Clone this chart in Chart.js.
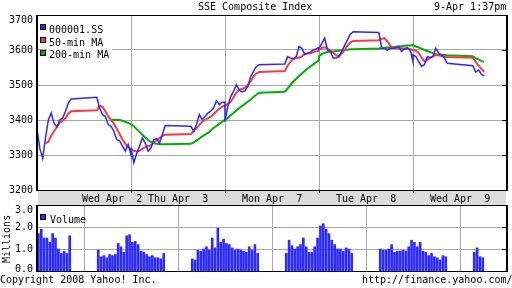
<!DOCTYPE html>
<html>
<head>
<meta charset="utf-8">
<script src="https://cdn.jsdelivr.net/npm/chart.js@4.4.0/dist/chart.umd.min.js"></script>
<style>
html, body { margin: 0; padding: 0; background: #fff; }
#wrap { position: relative; width: 512px; height: 288px; overflow: hidden; font: 10px 'DejaVu Sans Mono', monospace; color: #000; }
#wrap canvas { position: absolute; left: 0; top: 0; }
.t { position: absolute; white-space: pre; line-height: 10px; }
.box { position: absolute; width: 4px; height: 4px; border: 1px solid #000; }
#strip { position: absolute; left: 38px; top: 191px; width: 468px; height: 14px; background: #dcdcdc; }
#legbg { position: absolute; left: 47px; top: 17px; width: 65px; height: 42px; background: #fff; }
</style>
</head>
<body>
<div id="wrap">
  <div id="strip"></div>
  <canvas id="price" width="512" height="288"></canvas>
  <canvas id="volume" width="512" height="288"></canvas>
  <div id="legbg"></div>
  <div class="t" style="left:198px;top:2px">SSE Composite Index</div>
  <div class="t" style="left:434px;top:2px">9-Apr 1:37pm</div>
  <div class="t" style="left:-17px;top:234px;width:48px;transform:rotate(-90deg)">Millions</div>
  <div class="t" style="left:0px;top:275px">Copyright 2008 Yahoo! Inc.</div>
  <div class="t" style="left:362px;top:275px">http://finance.yahoo.com/</div>
</div>
<script>
// trading days shown, each row below = one day
// price rows: 9:30..11:30 then 13:00..15:00, every 10 min
const days = ['Wed Apr  2', 'Thu Apr  3', 'Mon Apr  7', 'Tue Apr  8', 'Wed Apr  9']
const seriesNames = ['000001.SS', '50-min MA', '200-min MA']
const priceTicks = [3200, 3300, 3400, 3500, 3600, 3700]
const volTicks = [0, 1, 2, 3]

const sse = [
  [3375, 3318, 3290, 3350, 3400, 3420, 3390, 3380, 3400, 3405, 3425, 3448, 3460,
   3465, 3434, 3415, 3410, 3387, 3382, 3368, 3344, 3341, 3325, 3311, 3330, 3301],
  [3320, 3278, 3305, 3325, 3349, 3334, 3311, 3320, 3344, 3347, 3334, 3358, 3384,
   3382, 3368, 3387, 3415, 3401, 3410, 3420, 3425, 3434, 3455, 3444, 3451, 3451],
  [3396, 3439, 3467, 3482, 3501, 3486, 3480, 3483, 3496, 3524, 3539, 3553, 3558,
   3560, 3581, 3577, 3575, 3581, 3610, 3605, 3588, 3591, 3594, 3600, 3603, 3607],
  [3605, 3619, 3634, 3600, 3596, 3577, 3577, 3581, 3596, 3613, 3629, 3645, 3652,
   3650, 3605, 3605, 3600, 3605, 3605, 3607, 3610, 3596, 3603, 3607, 3600, 3567],
  [3586, 3581, 3567, 3553, 3558, 3581, 3578, 3581, 3605, 3591, 3586, 3578, 3562,
   3555, 3537, 3543, 3531, 3526]
]

const ma50 = [
  [null, null, null, 3333, 3338, 3355, 3368, 3380, 3392, 3398, 3405, 3418, 3425,
   3428, 3440, 3438, 3425, 3410, 3400, 3390, 3375, 3360, 3345, 3332, 3322, 3318],
  [3318, 3312, 3310, 3312, 3318, 3322, 3325, 3328, 3335, 3342, 3348, 3355, 3358,
   3360, 3368, 3377, 3386, 3395, 3400, 3405, 3410, 3416, 3425, 3432, 3438, 3442],
  [3440, 3446, 3452, 3465, 3478, 3486, 3489, 3492, 3500, 3510, 3524, 3533, 3537,
   3540, 3555, 3567, 3574, 3577, 3578, 3582, 3588, 3590, 3591, 3594, 3596, 3598],
  [3600, 3606, 3608, 3604, 3598, 3592, 3585, 3582, 3590, 3600, 3612, 3622, 3626,
   3628, 3632, 3634, 3625, 3612, 3606, 3605, 3605, 3605, 3604, 3603, 3602, 3600],
  [3600, 3598, 3592, 3578, 3568, 3572, 3578, 3582, 3586, 3585, 3583, 3581, 3580,
   3578, 3566, 3556, 3546, 3538]
]

const ma200 = [
  [null, null, null, null, null, null, null, null, null, null, null, null, null,
   null, null, null, null, null, 3400, 3401, 3400, 3400, 3398, 3395, 3392, 3388],
  [3388, 3382, 3374, 3366, 3358, 3350, 3343, 3337, 3334, 3332, 3331, 3331, 3331,
   3332, 3336, 3341, 3347, 3353, 3358, 3363, 3370, 3377, 3383, 3389, 3395, 3401],
  [3400, 3406, 3414, 3420, 3428, 3434, 3440, 3446, 3452, 3458, 3466, 3472, 3478,
   3481, 3490, 3500, 3510, 3518, 3526, 3533, 3540, 3547, 3553, 3559, 3565, 3570],
  [3582, 3588, 3592, 3594, 3595, 3596, 3597, 3598, 3599, 3600, 3601, 3602, 3602,
   3604, 3605, 3606, 3607, 3607, 3608, 3609, 3610, 3611, 3612, 3613, 3613, 3614],
  [3613, 3610, 3607, 3604, 3600, 3597, 3594, 3591, 3588, 3587, 3586, 3586, 3585,
   3582, 3577, 3573, 3569, 3566]
]

// volume in millions, 10-min bars: 12 morning then 12 afternoon
const volume = [
  [1.7, 1.9, 1.5, 1.5, 1.3, 1.7, 1.5, 1.0, 0.8, 0.9, 0.8, 1.6,
   0.95, 0.65, 0.7, 0.6, 0.75, 0.7, 0.75, 1.25, 1.1, 0.85, 1.6, 1.65],
  [1.3, 1.35, 1.2, 0.9, 0.85, 0.75, 0.65, 0.7, 0.6, 0.6, 0.55, 0.8,
   0.55, 0.5, 0.95, 0.9, 1.0, 1.1, 0.95, 1.5, 1.05, 1.95, 1.3, 1.45],
  [1.25, 1.2, 1.05, 0.95, 1.0, 0.95, 0.9, 0.85, 1.1, 0.95, 1.2, 0.8,
   0.8, 1.4, 1.15, 1.0, 1.1, 1.2, 1.5, 1.1, 0.85, 0.85, 1.1, 1.5],
  [2.05, 2.15, 1.9, 1.7, 1.4, 1.2, 1.0, 1.0, 0.9, 1.05, 1.0, 0.8,
   1.0, 0.95, 0.95, 1.0, 1.2, 0.85, 0.9, 0.9, 0.95, 0.9, 1.1, 1.4],
  [1.3, 1.1, 1.3, 0.9, 0.85, 0.7, 0.8, 0.65, 0.6, 0.5, 0.7, 0.65,
   0.85, 1.05, 0.65, 0.6]
]

const DAY = 330 // minutes 9:30..15:00 incl. lunch
const PM = 210  // 13:00
const FONT = '10px "DejaVu Sans Mono"'

const linePoints = rows => rows.flatMap((row, d) => row.map((v, i) => ({
  x: d * DAY + (i < 13 ? i * 10 : PM + (i - 13) * 10),
  y: v
})))

const barPoints = rows => rows.flatMap((row, d) => row.map((v, i) => ({
  x: d * DAY + (i < 12 ? i * 10 : PM + (i - 12) * 10) + 5,
  y: v
})))

const dayEdges = days.map((d, i) => i * DAY).slice(1)

// frame, right-hand tick marks and left tick labels
const framePlugin = {
  id: 'frame',
  afterDraw (chart, args, opts) {
    const { ctx, chartArea: a, scales } = chart
    ctx.save()
    ctx.fillStyle = '#000'
    ctx.fillRect(a.left - 1, a.top, 2, a.bottom - a.top + 1)
    ctx.fillRect(a.right - 1, a.top, 2, a.bottom - a.top + 1)
    ctx.fillRect(a.left - 1, a.top, a.right - a.left + 1, 1)
    ctx.fillRect(a.left - 1, a.bottom, a.right - a.left + 1, 1)
    opts.ticks.forEach(v => {
      const y = Math.round(scales.y.getPixelForValue(v))
      if (y > a.top + 1 && y < a.bottom - 1) ctx.fillRect(a.right - 5, y, 4, 1)
    })
    if (opts.dayTicks) {
      dayEdges.forEach(v => {
        const x = Math.round(scales.x.getPixelForValue(v))
        ctx.fillRect(x, a.bottom, 1, 3)
      })
    }
    ctx.font = FONT
    ctx.textAlign = 'right'
    ctx.textBaseline = 'middle'
    opts.ticks.forEach(v => {
      let y = scales.y.getPixelForValue(v)
      y = Math.min(Math.max(y, a.top + 5), a.bottom - opts.lift)
      ctx.fillText(opts.fmt(v), a.left - 4, y)
    })
    ctx.restore()
  }
}

const xScale = () => ({
  type: 'linear',
  min: 0,
  max: DAY * days.length,
  offset: false,
  afterBuildTicks: s => { s.ticks = dayEdges.map(v => ({ value: v })) },
  afterFit: s => { s.height = 0 },
  ticks: { display: false },
  grid: { color: '#a8a8a8', lineWidth: 1, drawTicks: false },
  border: { display: false }
})

const yScale = (min, max, ticks) => ({
  min: min,
  max: max,
  afterBuildTicks: s => { s.ticks = ticks.slice(1, -1).map(v => ({ value: v })) },
  afterFit: s => { s.width = 37 },
  ticks: { display: false },
  grid: { color: '#a8a8a8', lineWidth: 1, drawTicks: false },
  border: { display: false }
})

const colors = ['#2a2aff', '#ff3a3a', '#00b000']

const priceChart = new Chart(document.getElementById('price'), {
  type: 'line',
  data: {
    datasets: [
      { label: seriesNames[0], data: linePoints(sse), borderColor: colors[0], borderWidth: 1.5 },
      { label: seriesNames[1], data: linePoints(ma50), borderColor: colors[1], borderWidth: 2 },
      { label: seriesNames[2], data: linePoints(ma200), borderColor: colors[2], borderWidth: 2 }
    ]
  },
  options: {
    responsive: false,
    animation: false,
    datasets: { line: { pointRadius: 0, tension: 0, fill: false } },
    layout: { padding: { left: 0, right: 5, top: 15, bottom: 98 } },
    plugins: {
      legend: { display: false },
      tooltip: { enabled: false },
      frame: { ticks: priceTicks, lift: 0, dayTicks: true, fmt: v => String(v) }
    },
    scales: { x: xScale(), y: yScale(3200, 3700, priceTicks) }
  },
  plugins: [framePlugin]
})

const volChart = new Chart(document.getElementById('volume'), {
  type: 'bar',
  data: {
    datasets: [{ label: 'Volume', data: barPoints(volume), backgroundColor: '#2b2bff', barThickness: 2, borderWidth: 0 }]
  },
  options: {
    responsive: false,
    animation: false,
    layout: { padding: { left: 0, right: 5, top: 205, bottom: 17 } },
    plugins: {
      legend: { display: false },
      tooltip: { enabled: false },
      frame: { ticks: volTicks, lift: 2, dayTicks: false, fmt: v => v.toFixed(1) }
    },
    scales: { x: xScale(), y: yScale(0, 3, volTicks) }
  },
  plugins: [framePlugin]
})

// legends and day labels as text
const wrap = document.getElementById('wrap')
const addText = (txt, left, top) => {
  const el = document.createElement('div')
  el.className = 't'
  el.textContent = txt
  el.style.left = left + 'px'
  el.style.top = top + 'px'
  wrap.appendChild(el)
}
const addBox = (color, left, top) => {
  const el = document.createElement('div')
  el.className = 'box'
  el.style.background = color
  el.style.left = left + 'px'
  el.style.top = top + 'px'
  wrap.appendChild(el)
}

priceChart.data.datasets.forEach((ds, i) => {
  addBox(ds.borderColor, 40, 24 + i * 13)
  addText(ds.label, 49, 25 + i * 12.5)
})
addBox('#2b2bff', 40, 214)
addText(volChart.data.datasets[0].label, 50, 215)

const xs = priceChart.scales.x
days.forEach((d, i) => {
  const c = xs.getPixelForValue(i * DAY + DAY / 2) + (i === 0 ? 28 : 0)
  addText(d, Math.round(c - 30), 194)
})
</script>
</body>
</html>
